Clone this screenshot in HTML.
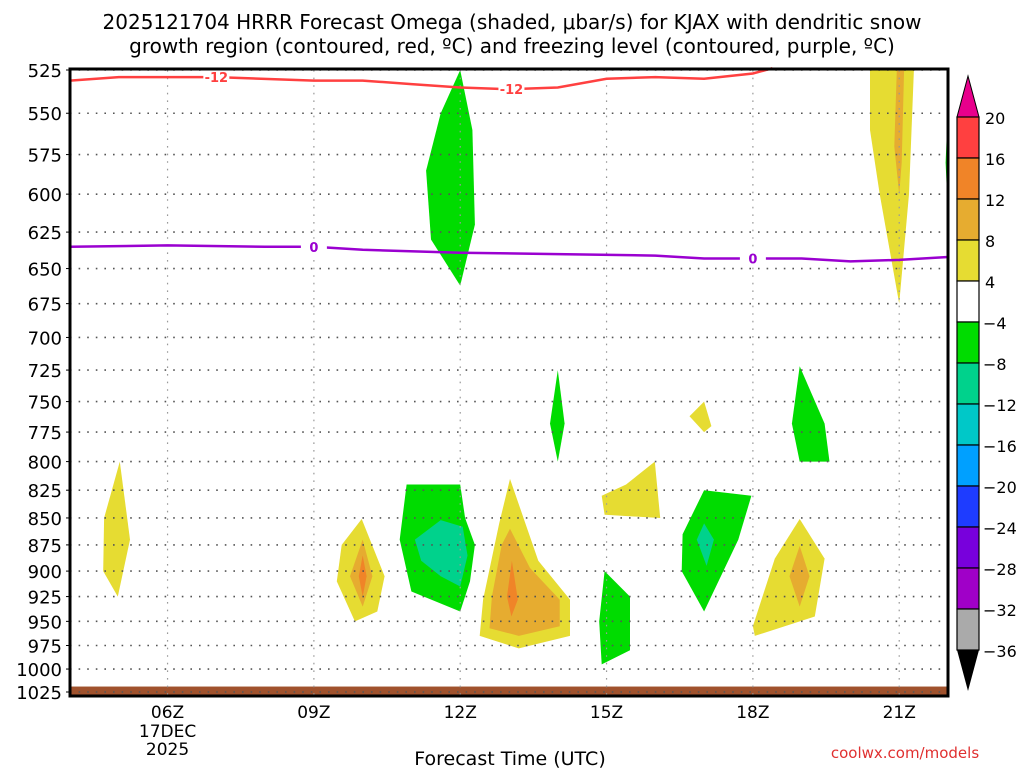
<!DOCTYPE html>
<html><head><meta charset="utf-8"><style>
body{margin:0;background:#fff;}
svg{display:block;font-family:"DejaVu Sans","Liberation Sans",sans-serif;}
</style></head><body>
<svg id="chart" width="1024" height="768" viewBox="0 0 1024 768">
<text x="512" y="29" font-size="20" text-anchor="middle">2025121704 HRRR Forecast Omega (shaded, μbar/s) for KJAX with dendritic snow</text>
<text x="512" y="53" font-size="20" text-anchor="middle">growth region (contoured, red, ºC) and freezing level (contoured, purple, ºC)</text>
<g id="fills"></g>
<g id="grid"></g>
<g id="lines"></g>
<g id="axes"></g>
<g id="cbar"></g>
<text x="510" y="765" font-size="19" text-anchor="middle">Forecast Time (UTC)</text>
<text x="905" y="758" font-size="15" fill="#e03030" text-anchor="middle">coolwx.com/models</text>
</svg>
<script>
const pTicks=[525,550,575,600,625,650,675,700,725,750,775,800,825,850,875,900,925,950,975,1000,1025];
const hourTicks=[6,9,12,15,18,21];
const hourLabels=["06Z","09Z","12Z","15Z","18Z","21Z"];
const cbarLabels=["20","16","12","8","4","−4","−8","−12","−16","−20","−24","−28","−32","−36"];
const cbarColors=["#ff4040","#f08428","#e6ac30","#e6dc32","#ffffff","#00dc00","#00d28c","#00c8c8","#00a0ff","#1e3cff","#7800dc","#a000c8","#aaaaaa"];
const dslLineH=[4,5,7,9,10,11,12,13,14,15,16,17,18,18.4];
const dslLineP=[531,529,529,531,531,533,535,536,535,530,529,530,527,524];
const frzLineH=[4,6,8,9,10,12,14,16,17,18,19,20,21,22];
const frzLineP=[635,634,635,635,637,639,640,641,643,643,643,645,644,642];
// omega contour regions: [color, hours[], pressures[]]
const blobYellow21=["#e6dc32",[20.4,21.3,21.2,21.0,20.6,20.4],[525,525,600,675,600,560]];
const blobOrange21=["#e6ac30",[20.95,21.1,21.05,21.0,20.9],[525,525,580,600,570]];
const blobGreen22=["#00dc00",[22,21.95,22],[545,580,615]];
const blobGreen12=["#00dc00",[12.0,12.25,12.3,12.0,11.4,11.3,11.6],[525,560,620,662,630,585,550]];
const blobYellow5=["#e6dc32",[5.02,5.23,4.98,4.68,4.7],[800,870,925,900,850]];
const blobYellow10=["#e6dc32",[9.98,10.45,10.3,9.84,9.47,9.57],[851,905,940,950,910,875]];
const blobOrange10=["#e6ac30",[10.0,10.2,10.0,9.74],[870,905,935,905]];
const blobRed10=["#f08428",[10.0,10.08,10.0,9.92],[885,905,925,905]];
const blobGreen11=["#00dc00",[10.9,12.0,12.1,12.3,12.2,12.0,11.0,10.76],[820,820,850,875,910,940,920,870]];
const blobTeal11=["#00d28c",[11.07,11.6,12.05,12.15,12.0,11.6,11.2],[870,852,858,885,915,905,890]];
const blobYellow13=["#e6dc32",[13.02,13.6,14.25,14.25,13.2,12.4,12.47,12.8],[815,890,928,965,978,965,928,855]];
const blobOrange13=["#e6ac30",[13.02,13.43,14.04,14.04,13.2,12.6,12.65,12.85],[860,897,928,955,965,957,925,875]];
const blobRed13=["#f08428",[13.06,13.18,13.05,12.96],[890,928,945,925]];
const blobGreen14=["#00dc00",[14.0,14.14,14.0,13.84],[725,768,800,768]];
const blobGreen15=["#00dc00",[14.96,15.48,15.48,14.9,14.85],[900,925,980,995,950]];
const blobYellow155=["#e6dc32",[15.99,16.1,14.96,14.9,15.4],[800,850,847,830,820]];
const blobYellow17=["#e6dc32",[17.0,17.15,17.0,16.7],[750,770,775,762]];
const blobGreen17=["#00dc00",[17.0,17.97,17.7,17.0,16.54,16.56],[825,830,870,940,900,865]];
const blobTeal17=["#00d28c",[17.0,17.2,17.05,16.85],[855,870,895,870]];
const blobGreen19=["#00dc00",[18.96,19.47,19.57,18.96,18.8],[722,768,800,800,768]];
const blobYellow19=["#e6dc32",[18.96,19.47,19.27,18.04,18.0,18.45],[851,888,945,965,955,888]];
const blobOrange19=["#e6ac30",[18.96,19.16,18.96,18.75],[876,905,935,905]];
const blobs=[blobYellow21,blobOrange21,blobGreen22,blobGreen12,blobYellow5,blobYellow10,blobOrange10,blobRed10,blobGreen11,blobTeal11,blobYellow13,blobOrange13,blobRed13,blobGreen14,blobGreen15,blobYellow155,blobYellow17,blobGreen17,blobTeal17,blobGreen19,blobYellow19,blobOrange19];
const blobNames=["yellow-21z","orange-21z","green-22z","green-12z","yellow-05z","yellow-10z","orange-10z","red-10z","green-11z","teal-11z","yellow-13z","orange-13z","red-13z","green-14z","green-15z","yellow-15z","yellow-17z","green-17z","teal-17z","green-19z","yellow-19z","orange-19z"];

const L=70,R=948,T=70,B=692,H0=4,H1=22,P0=525,P1=1025;
const xs=h=>L+(h-H0)/(H1-H0)*(R-L);
const ys=p=>T+(Math.log(p)-Math.log(P0))/(Math.log(P1)-Math.log(P0))*(B-T);
const NS="http://www.w3.org/2000/svg";
function mk(tag,attrs,parent){const e=document.createElementNS(NS,tag);for(const k in attrs)e.setAttribute(k,attrs[k]);parent.appendChild(e);return e;}
const fills=document.getElementById('fills'),grid=document.getElementById('grid'),lines=document.getElementById('lines'),axes=document.getElementById('axes'),cbar=document.getElementById('cbar');

blobs.forEach((b,i)=>{
  const pts=b[1].map((h,j)=>xs(h).toFixed(1)+','+ys(b[2][j]).toFixed(1)).join(' ');
  const e=mk('polygon',{points:pts,fill:b[0]},fills);
  
  
});
// ground
const g=mk('rect',{x:L,y:ys(1019),width:R-L,height:696-ys(1019),fill:'#a0522d'},fills);



pTicks.forEach(p=>{
  const y=ys(p);
  const l=mk('line',{x1:L,x2:R,y1:y,y2:y,stroke:'#555','stroke-width':1.6,'stroke-dasharray':'1.6 7'},grid);
  
  
  mk('line',{x1:L-4,x2:L,y1:y,y2:y,stroke:'#000'},axes);
  const t=mk('text',{x:L-8,y:y+7,'font-size':18,'text-anchor':'end'},axes);
  t.textContent=p;
  
  
});
hourTicks.forEach((h,i)=>{
  const x=xs(h);
  const l=mk('line',{x1:x,x2:x,y1:T,y2:696,stroke:'#999','stroke-width':1.2,'stroke-dasharray':'1.6 6'},grid);
  
  
  const t=mk('text',{x:x,y:718,'font-size':17,'text-anchor':'middle'},axes);
  t.textContent=hourLabels[i];
  
  
});
[["17DEC",737],["2025",755]].forEach(d=>{
  const t=mk('text',{x:xs(6),y:d[1],'font-size':17,'text-anchor':'middle'},axes);
  t.textContent=d[0];
  
  
});
function line(hs,ps,color,name){
  const d=hs.map((h,j)=>(j?'L':'M')+xs(h).toFixed(1)+','+ys(ps[j]).toFixed(1)).join('');
  const e=mk('path',{d:d,fill:'none',stroke:color,'stroke-width':2.5},lines);
  
  
}
line(dslLineH,dslLineP,'#ff4040','dgz-minus12-contour');
line(frzLineH,frzLineP,'#9a00d0','freezing-level-contour');
function lab(h,hs,ps,txt,color){
  let p=ps[0];for(let j=1;j<hs.length;j++){if(h<=hs[j]){p=ps[j-1]+(ps[j]-ps[j-1])*(h-hs[j-1])/(hs[j]-hs[j-1]);break;}}
  const x=xs(h),y=ys(p);
  mk('rect',{x:x-13,y:y-8,width:26,height:16,fill:'#fff'},lines);
  const t=mk('text',{x:x,y:y+5,'font-size':13,'font-weight':'bold',fill:color,'text-anchor':'middle'},lines);
  t.textContent=txt;
  
  
}
lab(7,dslLineH,dslLineP,'-12','#ff4040');
lab(13.05,dslLineH,dslLineP,'-12','#ff4040');
lab(9,frzLineH,frzLineP,'0','#9a00d0');
lab(18,frzLineH,frzLineP,'0','#9a00d0');
const fr=mk('rect',{x:L,y:69,width:R-L,height:627,fill:'none',stroke:'#000','stroke-width':3},axes);



// colorbar
const cx=957,cw=22,ct=117,ch=41;
mk('polygon',{points:`${cx},${ct} ${cx+cw},${ct} ${cx+cw/2},76`,fill:'#e8008c',stroke:'#000'},cbar);
cbarColors.forEach((c,i)=>{
  const r=mk('rect',{x:cx,y:ct+i*ch,width:cw,height:ch,fill:c,stroke:'#000','stroke-width':1.2},cbar);
  
  
});
const cb=ct+cbarColors.length*ch;
mk('polygon',{points:`${cx},${cb} ${cx+cw},${cb} ${cx+cw/2},691`,fill:'#000'},cbar);
cbarLabels.forEach((s,i)=>{
  const t=mk('text',{x:s.startsWith('−')?983:985,y:ct+i*ch+7,'font-size':16},cbar);
  t.textContent=s;
  
  
});
</script>
</body></html>
